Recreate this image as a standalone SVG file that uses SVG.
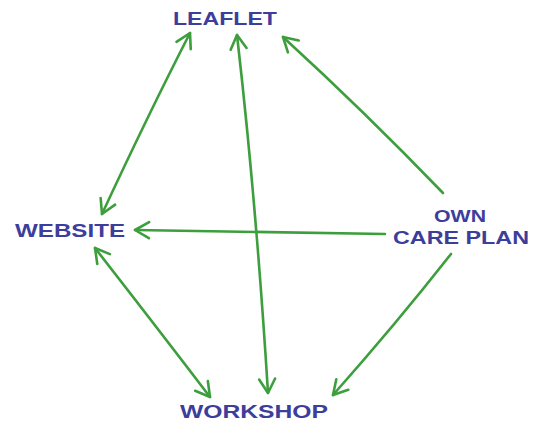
<svg xmlns="http://www.w3.org/2000/svg" width="533" height="421" viewBox="0 0 533 421">
<style>
.t{font-family:"Liberation Sans",Arial,sans-serif;font-weight:bold;fill:#3d3d9c;text-anchor:middle}
.c{fill:none;stroke:#3d9e3d;stroke-width:2.6;stroke-linecap:round;stroke-linejoin:round}
</style>
<defs>
<marker id="ah" viewBox="0 0 20 20" refX="18" refY="10" markerWidth="20" markerHeight="20" markerUnits="userSpaceOnUse" orient="auto-start-reverse">
<path d="M4,2 L18,10 L4,18" fill="none" stroke="#3d9e3d" stroke-width="2.6" stroke-linecap="round" stroke-linejoin="round"/>
</marker>
</defs>
<rect width="533" height="421" fill="#fff"/>
<g id="connectors">
<path class="c" d="M190,33 Q148,115 102,214" marker-start="url(#ah)" marker-end="url(#ah)"/>
<path class="c" d="M237,35 Q256,200 268,393" marker-start="url(#ah)" marker-end="url(#ah)"/>
<path class="c" d="M443,193 Q365,112 283,37" marker-end="url(#ah)"/>
<path class="c" d="M385,234 Q260,232 135,230" marker-end="url(#ah)"/>
<path class="c" d="M451,254 Q396,324 333,395" marker-end="url(#ah)"/>
<path class="c" d="M95,248 Q155,325 210,397" marker-start="url(#ah)" marker-end="url(#ah)"/>
</g>
<g id="leaflet"><text class="t" x="225" y="25" font-size="19" textLength="104" lengthAdjust="spacingAndGlyphs">LEAFLET</text></g>
<g id="website"><text class="t" x="70" y="237" font-size="19" textLength="110" lengthAdjust="spacingAndGlyphs">WEBSITE</text></g>
<g id="own-care-plan"><text class="t" x="460" y="222" font-size="17" textLength="52" lengthAdjust="spacingAndGlyphs">OWN</text><text class="t" x="461" y="244" font-size="19" textLength="136" lengthAdjust="spacingAndGlyphs">CARE PLAN</text></g>
<g id="workshop"><text class="t" x="254" y="418" font-size="19" textLength="148" lengthAdjust="spacingAndGlyphs">WORKSHOP</text></g>
</svg>
